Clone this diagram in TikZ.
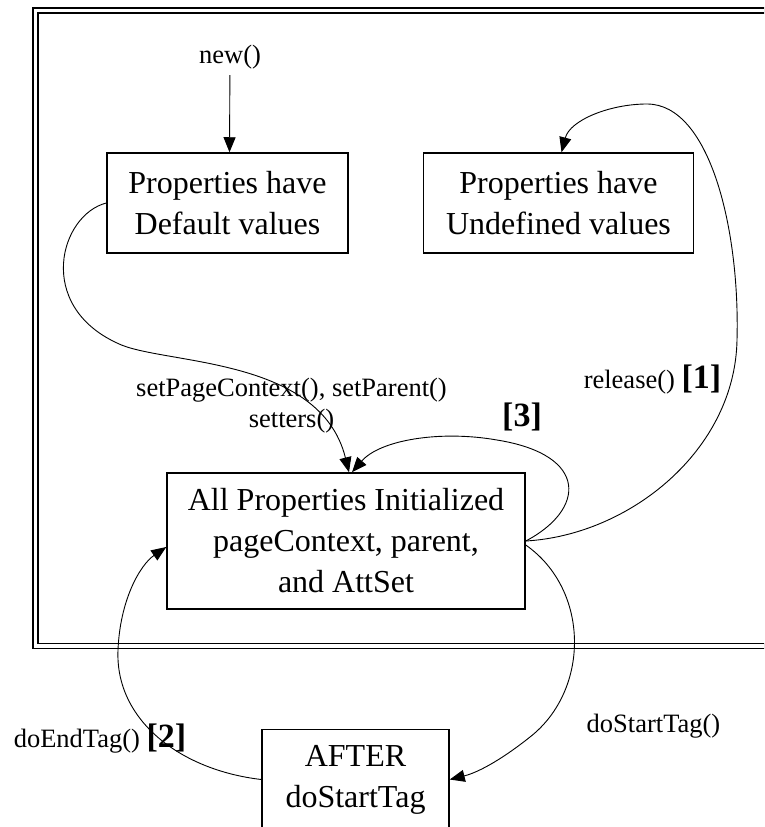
\documentclass[tikz,border=0pt]{standalone}
\usepackage{fontspec}
\setmainfont{Liberation Serif}
\usepackage{tikz}
\usetikzlibrary{arrows.meta,positioning}
\newcommand{\callno}[1]{{\bfseries\fontsize{34}{34}\selectfont #1}}

\begin{document}
\begin{tikzpicture}[x=1pt,y=-1pt,->,>={Triangle[length=15pt,width=12pt]},line width=0.9pt]
\tikzstyle{box}=[draw,rectangle,line width=1.5pt,align=center,inner sep=0pt,font=\fontsize{32}{41}\selectfont]
\tikzstyle{call}=[align=center,inner sep=0pt,font=\fontsize{26.5}{31}\selectfont]

\useasboundingbox (0,0) rectangle (764,827);
\clip (0,0) rectangle (764,827);
\draw[-,double,double distance=3.5pt,line width=1.5pt] (35.5,10.5) rectangle (850,646);

\node[box,minimum width=241pt,minimum height=100pt] (default) at (227.5,203) {Properties have\\Default values};
\node[box,minimum width=270pt,minimum height=100pt] (undefined) [right=74pt of default] {Properties have\\Undefined values};
\node[box,minimum width=358pt,minimum height=136pt] (init) at (346,541) {All Properties Initialized\\pageContext, parent,\\and AttSet};
\node[box,minimum width=187pt,minimum height=100pt,xshift=9.5pt] (after) [below=119pt of init] {AFTER\\doStartTag};

\node[call,anchor=base] (new) at (230,63) {new()};
\node[call] (setters) at (291.5,406) {setPageContext(), setParent()\\setters()};
\node[call] (three) at (522,417) {\callno{[3]}};
\node[call,anchor=base] (release) at (652.5,388) {release() \callno{[1]}};
\node[call,anchor=base] (endtag) at (100,747) {doEndTag() \callno{[2]}};
\node[call,anchor=base] (starttag) at (653.5,732) {doStartTag()};

\draw[shorten <=6pt] (new) -- ([xshift=2pt]default.north);
\draw (default.west) .. controls (60,215) and (35,305) .. (117,343) .. controls (160,365) and (320,355) .. ([xshift=3pt]init.north);
\draw (init.east) .. controls (585,510) and (590,455) .. (497,440) .. controls (440,430) and (380,440) .. ([xshift=6pt]init.north);
\draw (init.east) .. controls (630,535) and (735,450) .. (737,340) .. controls (740,230) and (710,104) .. (647,104) .. controls (610,104) and (570,120) .. ([xshift=3pt]undefined.north);
\draw ([yshift=-4pt]init.east) .. controls (590,590) and (590,690) .. (530,737) .. controls (505,757) and (480,772) .. (after.east);
\draw (after.west) .. controls (180,770) and (115,720) .. (118,650) .. controls (120,600) and (140,565) .. ([yshift=-6pt]init.west);
\end{tikzpicture}
\end{document}
